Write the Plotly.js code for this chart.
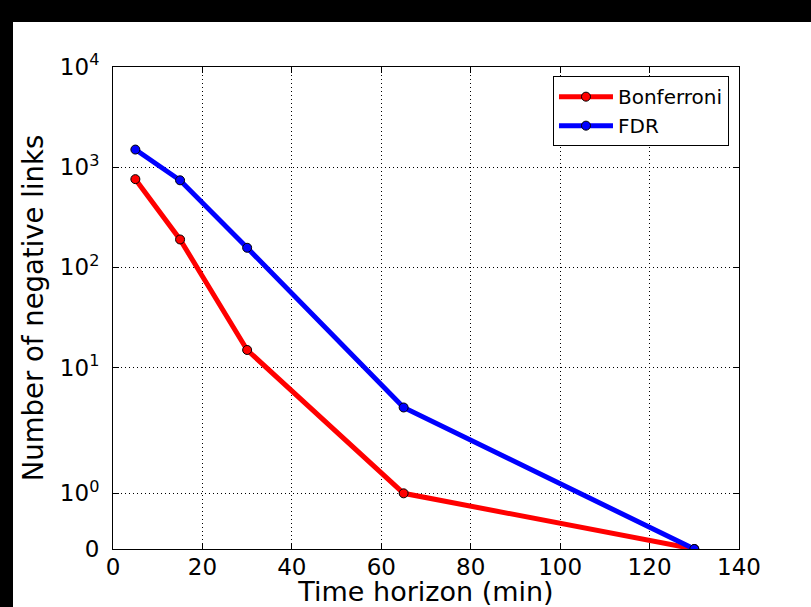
<!DOCTYPE html>
<html>
<head>
<meta charset="utf-8">
<script src="https://cdn.plot.ly/plotly-3.0.1.min.js"></script>
<style>
  html, body { margin: 0; padding: 0; background: #000; width: 811px; height: 607px; overflow: hidden; }
  #chart { position: absolute; left: 13px; top: 22px; width: 798px; height: 585px; }
</style>
</head>
<body>
<div id="chart"></div>
<script>
// Data
const timeHorizon = [5, 15, 30, 65, 130];
const bonferroni = [760, 190, 15, 1, 0];
const fdr = [1500, 740, 157, 4, 0];
const yTickValues = [0, 1, 10, 100, 1000, 10000];
const yTickLabels = ['0', '10<sup>0</sup>', '10<sup>1</sup>', '10<sup>2</sup>', '10<sup>3</sup>', '10<sup>4</sup>'];
const xTickValues = [0, 20, 40, 60, 80, 100, 120, 140];

// symmetric-log mapping (linthresh = 2, linscale = 1, base 10)
const LINTHRESH = 2;
const LINSCALE_ADJ = 1 / (1 - 1 / 10);
function symlog(v) {
  const a = Math.abs(v);
  const s = v < 0 ? -1 : 1;
  if (a <= LINTHRESH) return v / LINTHRESH * LINSCALE_ADJ;
  return s * (LINSCALE_ADJ + Math.log10(a / LINTHRESH));
}

const font = 'DejaVu Sans, Liberation Sans, sans-serif';

const traces = [
  {
    x: timeHorizon, y: bonferroni.map(symlog), customdata: bonferroni,
    name: 'Bonferroni', type: 'scatter', mode: 'lines+markers',
    line: {color: '#ff0000', width: 5},
    marker: {color: '#ff0000', size: 9, line: {color: '#000', width: 1}},
    hovertemplate: '%{x}, %{customdata}<extra>Bonferroni</extra>'
  },
  {
    x: timeHorizon, y: fdr.map(symlog), customdata: fdr,
    name: 'FDR', type: 'scatter', mode: 'lines+markers',
    line: {color: '#0000ff', width: 5},
    marker: {color: '#0000ff', size: 9, line: {color: '#000', width: 1}},
    hovertemplate: '%{x}, %{customdata}<extra>FDR</extra>'
  }
];

const axisCommon = {
  showline: true, linecolor: '#000', linewidth: 1, mirror: 'ticks',
  ticks: 'inside', ticklen: 6, tickwidth: 1, tickcolor: '#000',
  showgrid: true, gridcolor: '#000', gridwidth: 1, griddash: '1px,3px',
  zeroline: false, tickfont: {family: font, size: 23, color: '#000'},
  automargin: false
};

const layout = {
  width: 798, height: 585,
  margin: {l: 100, r: 72, t: 45, b: 58},
  paper_bgcolor: '#fff', plot_bgcolor: '#fff',
  font: {family: font, color: '#000'},
  showlegend: true,
  legend: {
    x: 0.984, y: 0.981, xanchor: 'right', yanchor: 'top',
    bgcolor: '#fff', bordercolor: '#000', borderwidth: 1,
    font: {family: font, size: 20, color: '#000'},
    itemwidth: 54, tracegroupgap: 0
  },
  xaxis: Object.assign({}, axisCommon, {
    range: [0, 140], tickmode: 'array', tickvals: xTickValues,
    ticktext: xTickValues.map(String),
    ticklabelstandoff: -3,
    title: {text: 'Time horizon (min)', font: {family: font, size: 27, color: '#000'}, standoff: 6}
  }),
  yaxis: Object.assign({}, axisCommon, {
    range: [0, symlog(10000)], tickmode: 'array',
    tickvals: yTickValues.map(symlog), ticktext: yTickLabels,
    ticklabelstandoff: 8,
    title: {text: 'Number of negative links', font: {family: font, size: 27.5, color: '#000'}, standoff: 8}
  })
};

Plotly.newPlot('chart', traces, layout, {displayModeBar: false, staticPlot: true});
</script>
</body>
</html>
